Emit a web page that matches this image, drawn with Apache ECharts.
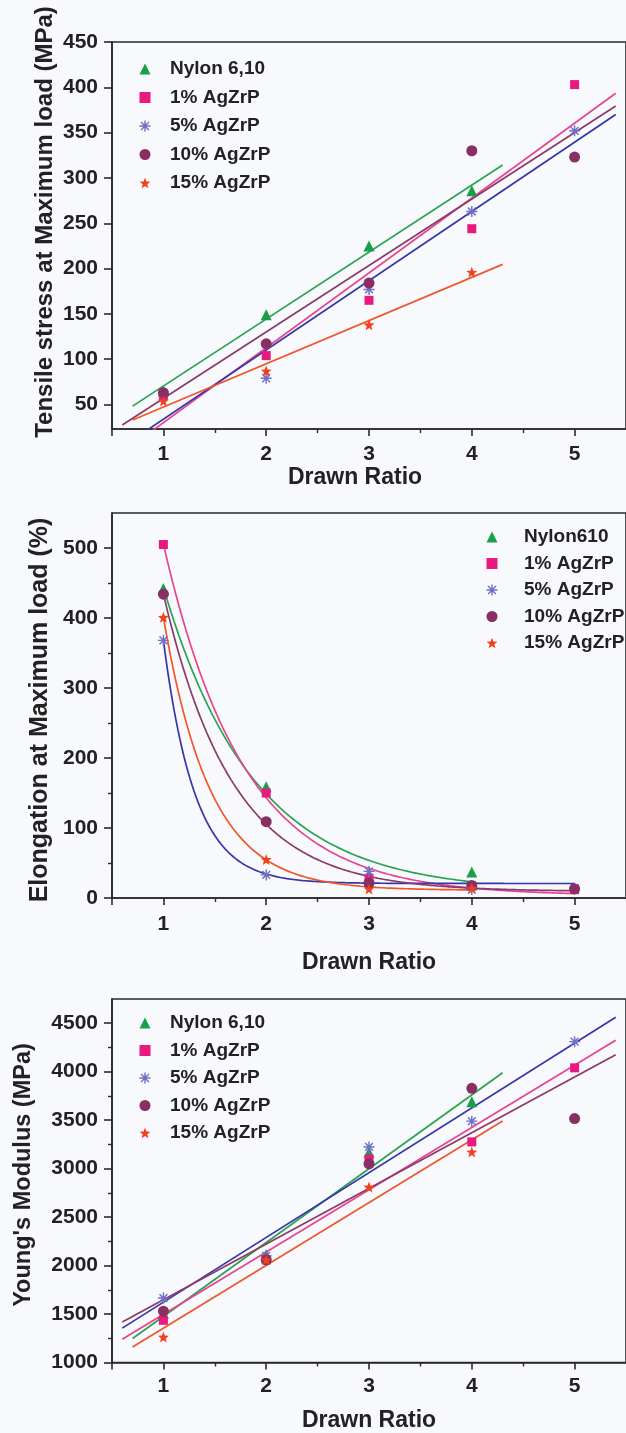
<!DOCTYPE html>
<html><head><meta charset="utf-8">
<script src="https://cdn.jsdelivr.net/npm/echarts@6/dist/echarts.min.js"></script>
<style>html,body{margin:0;padding:0;background:#f7f9fc;} #c{width:626px;height:1433px;}</style>
</head><body><div id="c"></div>
<script>
// ---------- DATA ----------
const drawnRatio = [1, 2, 3, 4, 5];
const legendNames1 = ['Nylon 6,10', '1% AgZrP', '5% AgZrP', '10% AgZrP', '15% AgZrP'];
const legendNames2 = ['Nylon610', '1% AgZrP', '5% AgZrP', '10% AgZrP', '15% AgZrP'];

// Tensile stress at maximum load (MPa)
const tensileNylon = [65, 149, 225, 286, null];
const tensile1 = [60, 104, 165, 244, 403];
const tensile5 = [62, 79, 177, 263, 352];
const tensile10 = [63, 117, 184, 330, 323];
const tensile15 = [54, 87, 138, 196, null];

// Elongation at maximum load (%)
const elongNylon = [442, 159, 31, 37, null];
const elong1 = [505, 150, 28, 17, 12];
const elong5 = [368, 33, 38, 12, 14];
const elong10 = [434, 109, 21, 18, 13];
const elong15 = [401, 55, 13, 14, null];

// Young's modulus (MPa)
const modNylon = [1505, 2110, 3170, 3690, null];
const mod1 = [1435, 2060, 3100, 3276, 4040];
const mod5 = [1665, 2100, 3224, 3490, 4310];
const mod10 = [1530, 2060, 3050, 3828, 3517];
const mod15 = [1262, 2060, 2810, 3172, null];

// tick labels
const xTicks = [1, 2, 3, 4, 5];
const xHalfTicks = [1.5, 2.5, 3.5, 4.5];
const yTicks1 = [50, 100, 150, 200, 250, 300, 350, 400, 450];
const yTicks2 = [0, 100, 200, 300, 400, 500];
const yMinor2 = [50, 150, 250, 350, 450];
const yTicks3 = [1000, 1500, 2000, 2500, 3000, 3500, 4000, 4500];
const yMinor3 = [1250, 1750, 2250, 2750, 3250, 3750, 4250];

// ---------- STYLE ----------
const markColors = ['#17a049', '#e8197f', '#6f6fc6', '#8a2f63', '#f0421e'];
const lineColors = ['#2aa350', '#e8438f', '#3535a8', '#8b3a68', '#f0562a'];

function starPath() {
  let d = '';
  for (let i = 0; i < 10; i++) {
    const a = -Math.PI / 2 + i * Math.PI / 5;
    const r = i % 2 ? 4.2 : 10;
    d += (i ? 'L' : 'M') + (r * Math.cos(a)).toFixed(3) + ' ' + (r * Math.sin(a)).toFixed(3) + ' ';
  }
  return 'path://' + d + 'Z';
}
function asteriskPath() {
  let d = '';
  const L = 5, w = 0.65;
  [0, 45, 90, 135].forEach(deg => {
    const a = deg * Math.PI / 180, c = Math.cos(a), s = Math.sin(a);
    const pts = [[-L, -w], [L, -w], [L, w], [-L, w]].map(([x, y]) => [x * c - y * s, x * s + y * c]);
    d += 'M' + pts.map(p => p[0].toFixed(3) + ' ' + p[1].toFixed(3)).join(' L') + ' Z ';
  });
  return 'path://' + d;
}
const symbols = ['triangle', 'rect', asteriskPath(), 'circle', starPath()];
const symbolSizes = [11, 9, 11, 11, 11];

// ---------- FITS ----------
function pairs(arr) {
  return drawnRatio.map((x, i) => [x, arr[i]]).filter(p => p[1] != null);
}
function linFit(pts) {
  const n = pts.length;
  const mx = pts.reduce((s, p) => s + p[0], 0) / n;
  const my = pts.reduce((s, p) => s + p[1], 0) / n;
  let sxy = 0, sxx = 0;
  pts.forEach(p => { sxy += (p[0] - mx) * (p[1] - my); sxx += (p[0] - mx) * (p[0] - mx); });
  const b = sxy / sxx, a = my - b * mx;
  const x0 = pts[0][0], x1 = pts[n - 1][0], r = x1 - x0;
  const xa = x0 - 0.1 * r, xb = x1 + 0.1 * r;
  return [[xa, a + b * xa], [xb, a + b * xb]];
}
function expFit(pts) {
  const x0 = pts[0][0];
  let best = null;
  for (let t = 0.05; t <= 4; t += 0.002) {
    const e = pts.map(p => Math.exp(-(p[0] - x0) / t));
    const n = pts.length;
    const me = e.reduce((s, v) => s + v, 0) / n;
    const my = pts.reduce((s, p) => s + p[1], 0) / n;
    let see = 0, sey = 0;
    e.forEach((v, i) => { see += (v - me) * (v - me); sey += (v - me) * (pts[i][1] - my); });
    const A = sey / see, y0 = my - A * me;
    let sse = 0;
    e.forEach((v, i) => { const r = pts[i][1] - (y0 + A * v); sse += r * r; });
    if (!best || sse < best.sse) best = { t, A, y0, sse };
  }
  const xe = pts[pts.length - 1][0];
  const out = [];
  for (let k = 0; k <= 200; k++) {
    const x = x0 + (xe - x0) * k / 200;
    out.push([x, best.y0 + best.A * Math.exp(-(x - x0) / best.t)]);
  }
  return out;
}

// ---------- LAYOUT ----------
const grids = [
  { left: 112, top: 42, width: 524.5, height: 387 },
  { left: 112, top: 513, width: 524.5, height: 385 },
  { left: 112, top: 999, width: 524.5, height: 367 }
];
const axisCol = '#2a2a2a';
const labelFont = { fontSize: 21, fontWeight: 'bold', color: '#222', fontFamily: 'Liberation Sans, Arial, sans-serif' };

const xAxes = [], yAxes = [];
const xNameGaps = [29.5, 53.5, 46.5];
const xNamePad = [[0, 28, 0, 0], [0, 0, 0, 0], [0, 0, 0, 0]];
const xLabelMargins = [15, 16, 13];
const yRanges = [[23, 450], [0, 550], [1000, 4750]];
const yMajor = [yTicks1, yTicks2, yTicks3];
const yMinor = [[], yMinor2, yMinor3];

grids.forEach((g, i) => {
  xAxes.push({
    gridIndex: i, type: 'value', min: 0.5, max: 5.5, position: 'bottom',
    axisLine: { show: true, onZero: false, lineStyle: { color: axisCol, width: 1.6 } },
    axisTick: { show: true, length: 7, customValues: [0.5].concat(xTicks), lineStyle: { color: axisCol, width: 1.6 } },
    axisLabel: Object.assign({ customValues: xTicks, margin: xLabelMargins[i], formatter: v => String(v) }, labelFont),
    splitLine: { show: false },
    name: 'Drawn Ratio', nameLocation: 'middle', nameGap: xNameGaps[i],
    nameTextStyle: { fontSize: 23, fontWeight: 'bold', color: '#222', fontFamily: 'Liberation Sans, Arial, sans-serif', padding: xNamePad[i] }
  });
  xAxes.push({
    gridIndex: i, type: 'value', min: 0.5, max: 5.5, position: 'bottom',
    axisLine: { show: false, onZero: false },
    axisTick: { show: true, length: 4, customValues: xHalfTicks, lineStyle: { color: axisCol, width: 1.4 } },
    axisLabel: { show: false }, splitLine: { show: false }
  });
  yAxes.push({
    gridIndex: i, type: 'value', min: yRanges[i][0], max: yRanges[i][1], position: 'left',
    axisLine: { show: true, onZero: false, lineStyle: { color: axisCol, width: 1.6 } },
    axisTick: { show: true, length: 8, customValues: yMajor[i], lineStyle: { color: axisCol, width: 1.6 } },
    axisLabel: Object.assign({ customValues: yMajor[i], margin: 14, formatter: v => String(v) }, labelFont),
    splitLine: { show: false }
  });
  yAxes.push({
    gridIndex: i, type: 'value', min: yRanges[i][0], max: yRanges[i][1], position: 'left',
    axisLine: { show: false, onZero: false },
    axisTick: { show: yMinor[i].length > 0, length: 4, customValues: yMinor[i].length ? yMinor[i] : [yRanges[i][0]], lineStyle: { color: axisCol, width: 1.4 } },
    axisLabel: { show: false }, splitLine: { show: false }
  });
});

const panels = [
  { names: legendNames1, data: [tensileNylon, tensile1, tensile5, tensile10, tensile15], fit: linFit },
  { names: legendNames2, data: [elongNylon, elong1, elong5, elong10, elong15], fit: expFit },
  { names: legendNames1, data: [modNylon, mod1, mod5, mod10, mod15], fit: linFit }
];

const series = [];
panels.forEach((p, pi) => {
  p.data.forEach((arr, si) => {
    const pts = pairs(arr);
    series.push({
      name: 'fit-' + pi + '-' + si, type: 'line', xAxisIndex: pi * 2, yAxisIndex: pi * 2,
      data: p.fit(pts), showSymbol: false, symbol: 'none', silent: true, z: 2,
      lineStyle: { color: lineColors[si], width: 1.7 }, clip: true, animation: false
    });
  });
  p.data.forEach((arr, si) => {
    series.push({
      name: p.names[si], type: 'scatter', xAxisIndex: pi * 2, yAxisIndex: pi * 2,
      data: pairs(arr), symbol: symbols[si], symbolSize: symbolSizes[si], z: 3,
      itemStyle: { color: markColors[si], opacity: 1 }, animation: false
    });
  });
});

function legendText(padLeft) {
  return { fontSize: 19, fontWeight: 'bold', color: '#222', lineHeight: 19, padding: [0, 0, 0, padLeft], fontFamily: 'Liberation Sans, Arial, sans-serif' };
}
const legends = [
  { left: 139.5, top: 59.5, itemGap: 9.5, data: legendNames1, textStyle: legendText(14.5) },
  { left: 486.5, top: 527.5, itemGap: 7.5, data: legendNames2, textStyle: legendText(21.5) },
  { left: 139.5, top: 1013.5, itemGap: 8.5, data: legendNames1, textStyle: legendText(14.5) }
].map(l => Object.assign({ orient: 'vertical', padding: 0, itemWidth: 11, itemHeight: 11, selectedMode: false }, l));

const yTitleFont = 'bold {s}px "Liberation Sans", Arial, sans-serif';
const yTitles = [
  { text: 'Tensile stress at Maximum load (MPa)', x: 45, y: 222, s: 24 },
  { text: 'Elongation at Maximum load (%)', x: 40, y: 710, s: 25 },
  { text: "Young's Modulus (MPa)", x: 24, y: 1175, s: 23.5 }
];

const chart = echarts.init(document.getElementById('c'), null, { renderer: 'canvas' });
chart.setOption({
  backgroundColor: '#f7f9fc',
  animation: false,
  grid: grids.map(g => Object.assign({ show: true, borderColor: axisCol, borderWidth: 1.6, backgroundColor: 'transparent' }, g)),
  xAxis: xAxes,
  yAxis: yAxes,
  legend: legends,
  series: series,
  graphic: yTitles.map(t => ({
    type: 'text', x: t.x, y: t.y, rotation: Math.PI / 2,
    style: { text: t.text, font: yTitleFont.replace('{s}', t.s), fill: '#222', align: 'center', verticalAlign: 'middle' }
  }))
});
</script>
</body></html>
